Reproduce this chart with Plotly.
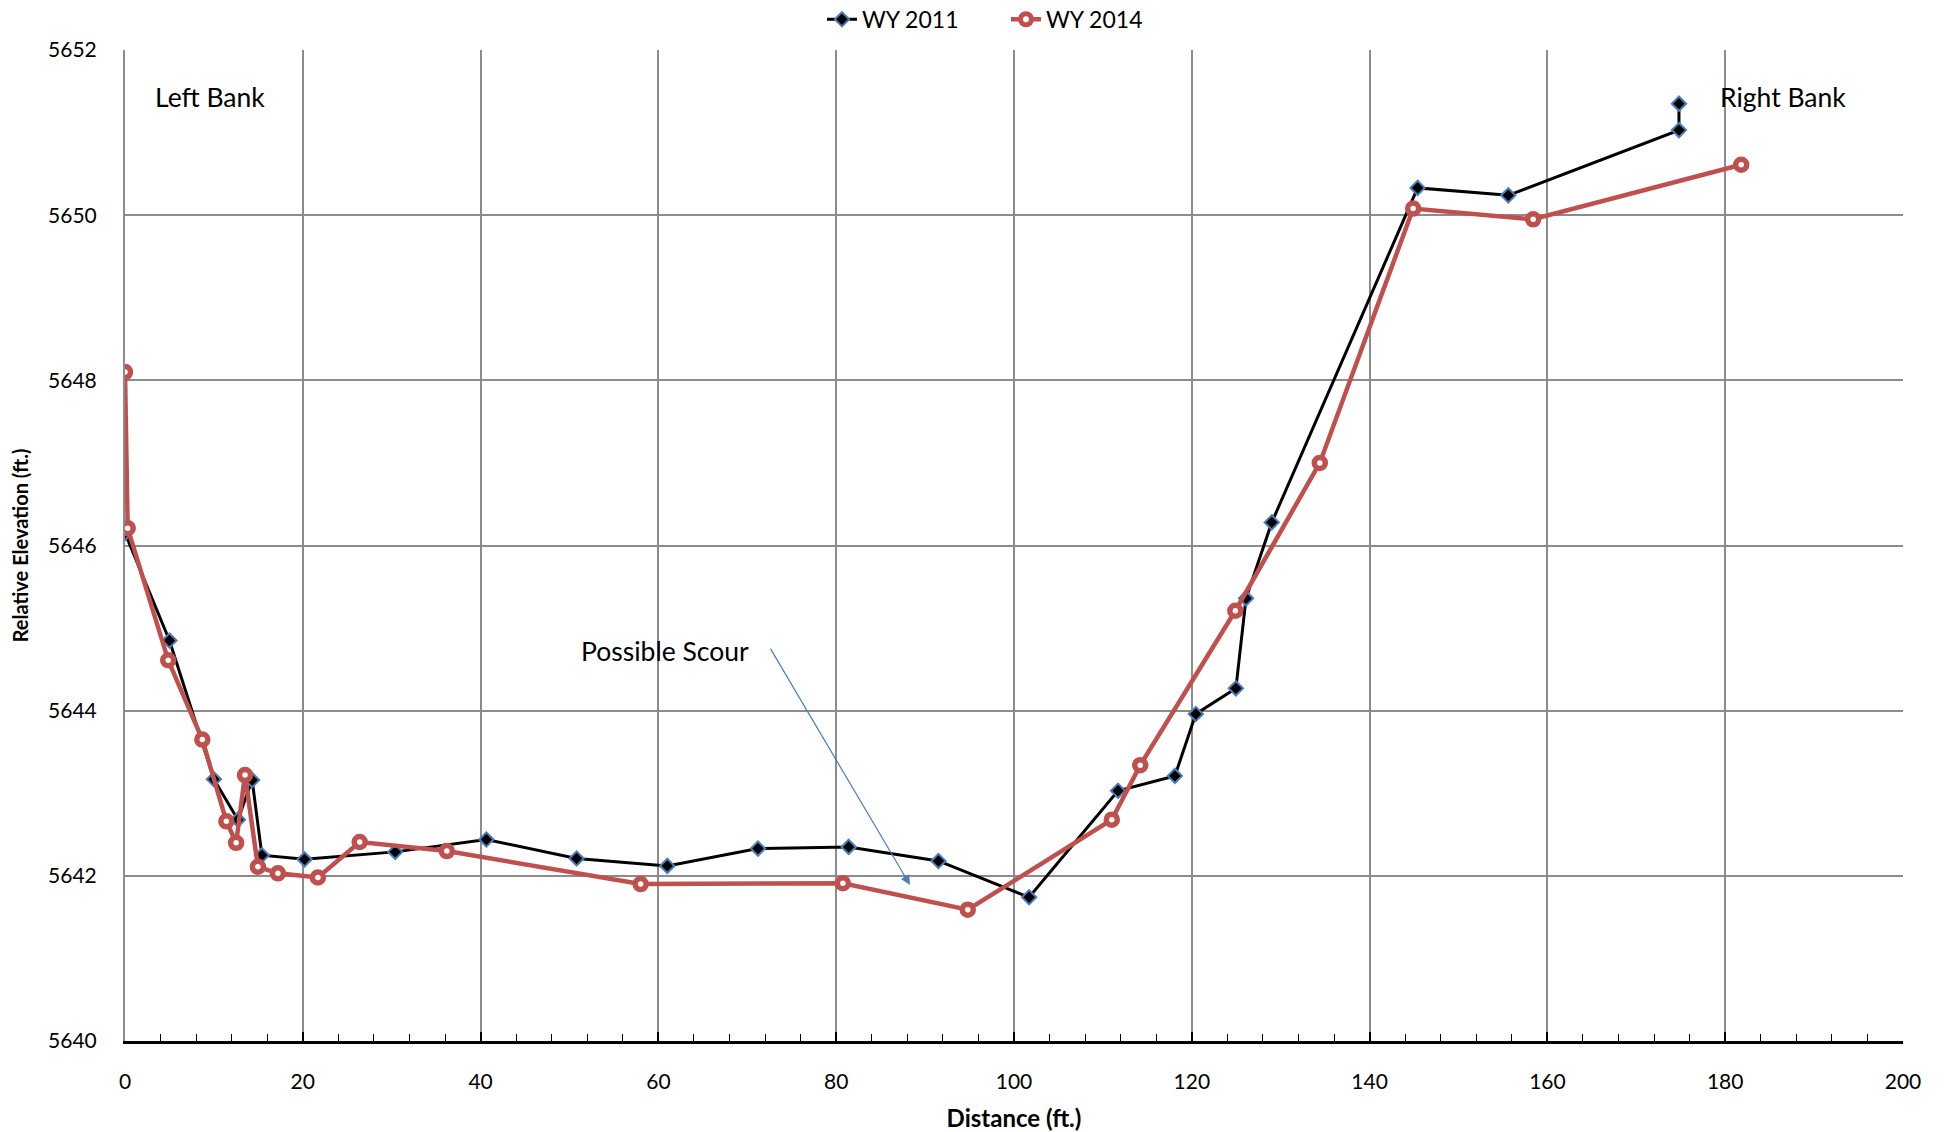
import plotly.graph_objects as go

# Cross-section survey, WY 2011
dist_2011 = [0.0, 5.0, 10.0, 12.7, 14.3, 15.4, 20.2, 30.4, 40.65, 50.8, 61.0, 71.2, 81.4,
             91.5, 101.7, 111.7, 118.1, 120.45, 124.96, 126.1, 129.0, 145.4, 155.6,
             174.8, 174.8]
elev_2011 = [5646.15, 5644.85, 5643.17, 5642.68, 5643.16, 5642.25, 5642.20, 5642.29,
             5642.44, 5642.21, 5642.12, 5642.33, 5642.35, 5642.18, 5641.74, 5643.03,
             5643.21, 5643.96, 5644.27, 5645.36, 5646.28, 5650.33, 5650.24, 5651.03,
             5651.35]

# Cross-section survey, WY 2014
dist_2014 = [0.0, 0.3, 4.86, 8.7, 11.4, 12.5, 13.5, 14.95, 17.2, 21.7, 26.4, 36.2, 58.0,
             80.75, 94.8, 111.0, 114.2, 124.9, 134.4, 144.9, 158.4, 181.8]
elev_2014 = [5648.10, 5646.21, 5644.61, 5643.65, 5642.66, 5642.40, 5643.22, 5642.11,
             5642.03, 5641.98, 5642.41, 5642.30, 5641.90, 5641.91, 5641.59, 5642.68,
             5643.34, 5645.21, 5647.00, 5650.08, 5649.95, 5650.61]

x_ticks = list(range(0, 201, 20))
y_ticks = list(range(5640, 5653, 2))

FONT = "Lato"
RED = "#c0504d"
BLUE = "#4a7ebb"
GRID = "#8c8c8c"

fig = go.Figure()

fig.add_trace(go.Scatter(
    x=dist_2011, y=elev_2011, name="WY 2011", mode="lines+markers",
    line=dict(color="black", width=3),
    marker=dict(symbol="diamond", size=11, color="black",
                line=dict(color=BLUE, width=2)),
))
fig.add_trace(go.Scatter(
    x=dist_2014, y=elev_2014, name="WY 2014", mode="lines+markers",
    line=dict(color=RED, width=4.5),
    marker=dict(symbol="circle", size=11, color="white",
                line=dict(color=RED, width=5.5)),
))

fig.update_layout(
    width=1948, height=1132,
    margin=dict(l=125, r=45, t=50, b=91, autoexpand=False),
    paper_bgcolor="white", plot_bgcolor="white",
    font=dict(family=FONT, size=21, color="black"),
    legend=dict(orientation="h", x=0.392, xanchor="left", y=1.031, yanchor="middle",
                font=dict(size=23), tracegroupgap=0, entrywidth=139,
                bgcolor="rgba(0,0,0,0)"),
    annotations=[
        dict(x=9.6, y=5651.43, text="Left Bank", showarrow=False,
             font=dict(size=26.5)),
        dict(x=186.5, y=5651.43, text="Right Bank", showarrow=False,
             font=dict(size=26.5)),
        dict(x=60.7, y=5644.72, text="Possible Scour", showarrow=False,
             font=dict(size=26.5)),
        dict(x=88.3, y=5641.89, ax=72.5, ay=5644.77, axref="x", ayref="y",
             text="", showarrow=True, arrowhead=2, arrowsize=1.6,
             arrowwidth=1.2, arrowcolor=BLUE),
    ],
)

fig.update_xaxes(
    range=[0, 200], tickvals=x_ticks, ticktext=[str(v) for v in x_ticks],
    tickfont=dict(size=21),
    showgrid=True, gridcolor=GRID, gridwidth=1.5,
    showline=True, linecolor="black", linewidth=2.5,
    ticks="inside", ticklen=9, tickcolor="black", tickwidth=1.5,
    minor=dict(dtick=4, ticks="inside", ticklen=7, tickcolor="black",
               tickwidth=1.2, showgrid=False),
    ticklabelstandoff=20, zeroline=False,
    title=dict(text="<b>Distance (ft.)</b>", font=dict(size=24), standoff=21),
    mirror=False,
)
fig.update_yaxes(
    range=[5640, 5652], tickvals=y_ticks, ticktext=[str(v) for v in y_ticks],
    tickfont=dict(size=21),
    showgrid=True, gridcolor=GRID, gridwidth=1.5,
    showline=True, linecolor=GRID, linewidth=2,
    ticks="", ticklabelstandoff=22, zeroline=False,
    title=dict(text="<b>Relative Elevation (ft.)</b>", font=dict(size=20), standoff=14),
)

fig.write_html("out.html")
